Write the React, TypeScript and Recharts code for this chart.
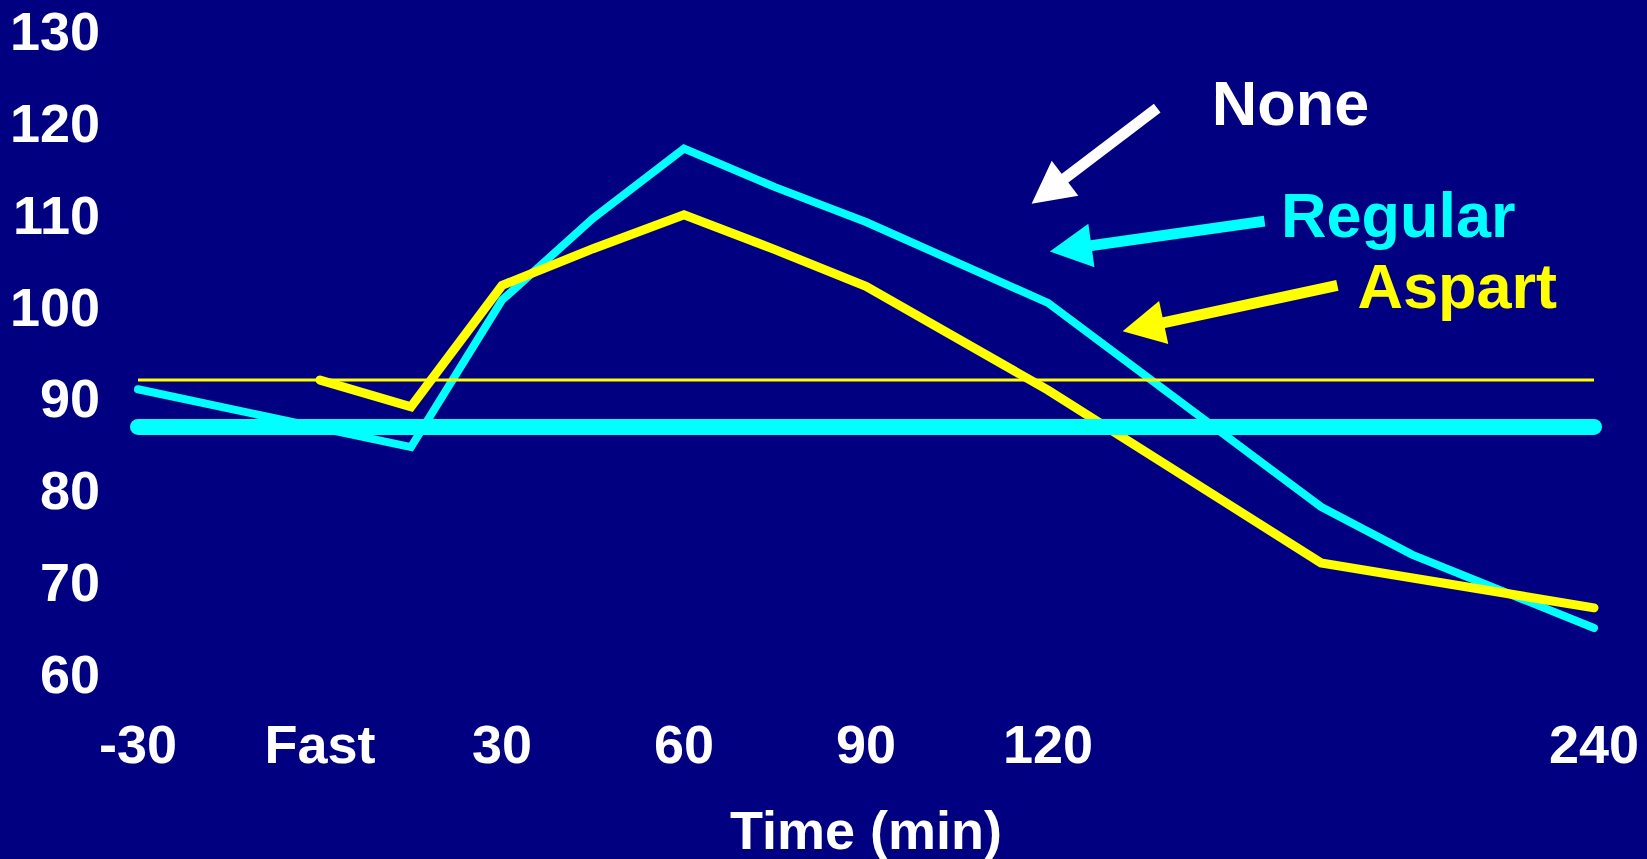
import { LineChart, Line, XAxis, YAxis, ReferenceLine, ReferenceDot } from "recharts";

// x positions are slots on the category axis: -30, Fast, 30, 60, 90, 120, ..., 240
const tickSlots = [0, 1, 2, 3, 4, 5, 8];
const tickLabels = ["-30", "Fast", "30", "60", "90", "120", "240"];
const yTicks = [60, 70, 80, 90, 100, 110, 120, 130];

const regularSlots = [0, 1.5, 2, 2.5, 3, 3.5, 4, 5, 6.5, 7, 8];
const regularValues = [91.0, 84.7, 100.7, 109.6, 117.2, 113.0, 109.2, 100.4, 78.2, 73.0, 65.0];

const aspartSlots = [1, 1.5, 2, 2.5, 3, 3.5, 4, 5, 6.5, 8];
const aspartValues = [92.0, 89.1, 102.3, 106.3, 110.0, 106.2, 102.2, 90.9, 72.1, 67.2];

const baselineSlots = [0, 8];
const regularBaseline = [86.9, 86.9];
const aspartBaseline = [92.0, 92.0];

// annotations (in slot / value units)
const noteLabels = ["None", "Regular", "Aspart"];
const noteColors = ["#FFFFFF", "#00FFFF", "#FFFF00"];
const noteTextAt = [
  [5.9, 119.8],
  [6.28, 107.6],
  [6.7, 99.8],
];
const noteArrows = [
  [5.6, 121.6, 4.91, 111.2],
  [6.19, 109.3, 5.01, 106.0],
  [6.59, 102.3, 5.41, 97.3],
];

const FONT = "'Liberation Sans', Arial, sans-serif";
const NAVY = "#000080";

const toRows = (xs: number[], ys: number[]) => xs.map((x, i) => ({ x, y: ys[i] }));

function Arrow(props: any) {
  const { x1, y1, x2, y2, color } = props;
  const dx = x2 - x1;
  const dy = y2 - y1;
  const len = Math.hypot(dx, dy) || 1;
  const ux = dx / len;
  const uy = dy / len;
  const head = 42;
  const half = 22;
  const bx = x2 - ux * head;
  const by = y2 - uy * head;
  const px = -uy;
  const py = ux;
  return (
    <g>
      <line x1={x1} y1={y1} x2={bx + ux * 2} y2={by + uy * 2} stroke={color} strokeWidth={11} />
      <polygon
        points={`${x2},${y2} ${bx + px * half},${by + py * half} ${bx - px * half},${by - py * half}`}
        fill={color}
      />
    </g>
  );
}

function XTick({ x, y, payload }: any) {
  const i = tickSlots.indexOf(payload.value);
  return (
    <text x={x} y={y + 89} textAnchor="middle" fill="#fff" fontSize={54} fontWeight="bold" fontFamily={FONT}>
      {tickLabels[i]}
    </text>
  );
}

function YTick({ x, y, payload }: any) {
  return (
    <text x={x - 38} y={y + 19} textAnchor="end" fill="#fff" fontSize={54} fontWeight="bold" fontFamily={FONT}>
      {payload.value}
    </text>
  );
}

export default function App() {
  return (
    <div style={{ position: "fixed", left: 0, top: 0, width: 1647, height: 859, background: NAVY }}>
      <LineChart width={1647} height={859} margin={{ top: 31, right: 53, left: 0, bottom: 0 }}>
        <XAxis
          type="number"
          dataKey="x"
          domain={[0, 8]}
          ticks={tickSlots}
          tick={<XTick />}
          tickSize={0}
          tickMargin={0}
          tickLine={false}
          axisLine={false}
          height={185}
          label={{
            value: "Time (min)",
            position: "insideBottom",
            offset: 10,
            fill: "#fff",
            fontSize: 54,
            fontWeight: "bold",
            fontFamily: FONT,
          }}
        />
        <YAxis
          type="number"
          domain={[60, 130]}
          ticks={yTicks}
          tick={<YTick />}
          tickSize={0}
          tickMargin={0}
          tickLine={false}
          axisLine={false}
          width={138}
        />
        <Line
          data={toRows(regularSlots, regularValues)}
          dataKey="y"
          type="linear"
          stroke="#00FFFF"
          strokeWidth={8}
          strokeLinecap="round"
          dot={false}
          isAnimationActive={false}
        />
        <Line
          data={toRows(aspartSlots, aspartValues)}
          dataKey="y"
          type="linear"
          stroke="#FFFF00"
          strokeWidth={9}
          strokeLinecap="round"
          dot={false}
          isAnimationActive={false}
        />
        <Line
          data={toRows(baselineSlots, aspartBaseline)}
          dataKey="y"
          type="linear"
          stroke="#FFFF00"
          strokeWidth={3}
          dot={false}
          isAnimationActive={false}
        />
        <Line
          data={toRows(baselineSlots, regularBaseline)}
          dataKey="y"
          type="linear"
          stroke="#00FFFF"
          strokeWidth={16}
          strokeLinecap="round"
          dot={false}
          isAnimationActive={false}
        />
        {noteArrows.map((a, i) => (
          <ReferenceLine
            key={`arrow-${i}`}
            segment={[
              { x: a[0], y: a[1] },
              { x: a[2], y: a[3] },
            ]}
            shape={(p: any) => <Arrow {...p} color={noteColors[i]} />}
          />
        ))}
        {noteLabels.map((label, i) => (
          <ReferenceDot
            key={`note-${i}`}
            x={noteTextAt[i][0]}
            y={noteTextAt[i][1]}
            r={0}
            fill="none"
            stroke="none"
            label={(p: any) => (
              <text
                x={p.viewBox.x}
                y={p.viewBox.y}
                fill={noteColors[i]}
                fontSize={63}
                fontWeight="bold"
                fontFamily={FONT}
              >
                {label}
              </text>
            )}
          />
        ))}
      </LineChart>
    </div>
  );
}
